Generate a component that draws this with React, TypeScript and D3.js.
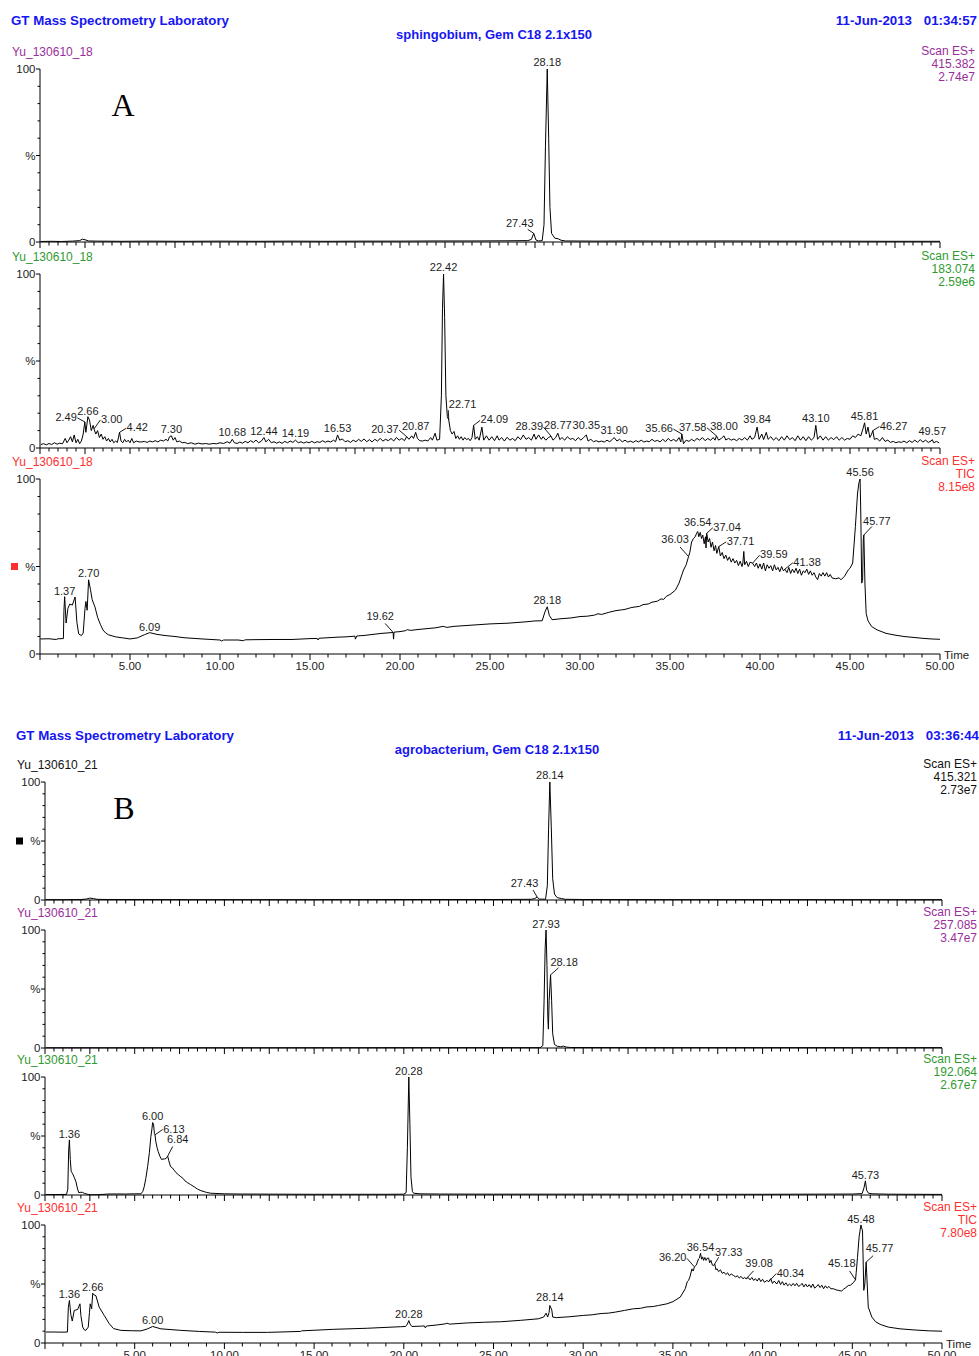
import React from 'react';
import * as d3 from 'd3';

const FONT = '"Liberation Sans", Arial, Helvetica, sans-serif';
const SERIF = '"Liberation Serif", "Times New Roman", serif';
const BLUE = '#1616f2';
const PURPLE = '#9a2e9a';
const GREEN = '#2f9a2f';
const RED = '#ff2f2f';
const INK = '#1c1c1c';

// ---- traces: flat lists of [retention time (min), relative intensity (%)] ----
// sphingobium, m/z 415.382
const a1Trace = [
  0.05, 0.3, 0.6, 0.4, 1.2, 0.3, 1.8, 0.5, 2.2, 0.8, 2.35, 1.6, 2.5, 1.3, 2.7, 0.6, 3.2, 0.5, 4.5, 0.4,
  6, 0.5, 8, 0.4, 10, 0.5, 12, 0.4, 14, 0.5, 16, 0.4, 18, 0.5, 20, 0.5, 22, 0.6, 24, 0.6, 26, 0.7,
  27.1, 0.8, 27.3, 1.5, 27.43, 5, 27.55, 1.2, 27.7, 0.6, 27.9, 0.8, 28.0, 10, 28.08, 55, 28.18, 100,
  28.26, 60, 28.33, 20, 28.42, 5, 28.6, 2.2, 28.8, 1.8, 28.95, 1.0, 29.2, 0.6, 31, 0.5, 33, 0.6, 35, 0.5,
  38, 0.6, 41, 0.5, 44, 0.5, 47, 0.4, 50, 0.4,
];

// sphingobium, m/z 183.074
const a2Trace = [
  0.05, 2, 0.2, 2.5, 0.35, 1.8, 0.5, 2.6, 0.65, 2, 0.8, 3, 0.95, 2.2, 1.1, 2.8, 1.25, 2.4, 1.4, 5.5,
  1.5, 3, 1.6, 4.5, 1.7, 6.5, 1.8, 3.5, 1.9, 7.5, 2.0, 3, 2.1, 5, 2.2, 2.5, 2.3, 4, 2.4, 8,
  2.49, 15, 2.55, 9, 2.66, 18, 2.75, 16, 2.85, 10, 2.95, 13, 3.0, 11, 3.1, 8, 3.2, 10, 3.3, 6,
  3.4, 8, 3.5, 5, 3.6, 6.5, 3.7, 4, 3.8, 5.5, 3.9, 3.5, 4.0, 5, 4.1, 3, 4.2, 4, 4.3, 3.2,
  4.42, 9, 4.5, 4, 4.6, 3, 4.7, 5, 4.8, 3.4, 4.9, 4.5, 5.0, 3, 5.1, 5.5, 5.2, 3, 5.35, 4,
  5.5, 3.5, 5.65, 3.5, 5.8, 3.8, 5.95, 3.2, 6.1, 4, 6.25, 3.5, 6.4, 4.2, 6.55, 3.5, 6.7, 4.5, 6.85, 4,
  7.0, 5, 7.1, 4, 7.2, 6.5, 7.3, 7, 7.4, 4.5, 7.5, 6, 7.6, 3.5, 7.75, 4, 7.9, 3, 8.05, 3.2,
  8.2, 2.5, 8.4, 3, 8.6, 2.2, 8.8, 2.8, 9.0, 2.3, 9.2, 2.6, 9.4, 2.2, 9.6, 2.6, 9.8, 2.4, 10.0, 3,
  10.2, 2.6, 10.4, 3.6, 10.55, 2.8, 10.68, 5, 10.8, 3, 10.95, 2.6, 11.1, 3.4, 11.25, 2.8, 11.4, 3.8, 11.55, 3,
  11.7, 4.2, 11.85, 3.2, 12.0, 4.5, 12.15, 3, 12.3, 4, 12.44, 6, 12.55, 3.5, 12.7, 5, 12.85, 3, 13.0, 3.6,
  13.15, 2.8, 13.3, 3.5, 13.45, 2.7, 13.6, 3.8, 13.75, 3, 13.9, 4, 14.05, 3.2, 14.19, 4.5, 14.35, 3, 14.5, 3.6,
  14.65, 2.8, 14.8, 3.5, 14.95, 3, 15.1, 3.8, 15.25, 3, 15.4, 3.6, 15.55, 3.2, 15.7, 4.2, 15.85, 3.3, 16.0, 4,
  16.15, 3.4, 16.3, 4.5, 16.42, 3.6, 16.53, 7.5, 16.65, 4.5, 16.8, 5.2, 16.95, 3.6, 17.1, 4.2, 17.25, 3.2, 17.4, 4.5,
  17.55, 3.6, 17.7, 5, 17.85, 3.8, 18.0, 5.2, 18.15, 3.6, 18.3, 4.8, 18.45, 3.5, 18.6, 5, 18.75, 4, 18.9, 5.5,
  19.05, 4, 19.2, 5, 19.35, 4.2, 19.5, 5.5, 19.65, 4, 19.8, 6, 19.95, 4.5, 20.1, 5.5, 20.25, 4.2, 20.37, 6.5,
  20.5, 5, 20.65, 7, 20.75, 5.5, 20.87, 9, 20.97, 5.5, 21.1, 4.2, 21.25, 4, 21.4, 4.5, 21.55, 4, 21.7, 6,
  21.8, 4.5, 21.95, 8.5, 22.05, 4.5, 22.2, 5, 22.3, 30, 22.36, 80, 22.42, 100, 22.48, 75, 22.55, 30, 22.63, 18,
  22.71, 16, 22.8, 10, 22.9, 8, 23.0, 9.5, 23.1, 5.5, 23.2, 7, 23.3, 5, 23.4, 6.5, 23.5, 4.5, 23.6, 6,
  23.7, 4.8, 23.8, 5.5, 23.9, 4.2, 24.0, 6, 24.09, 13, 24.18, 5, 24.3, 6.5, 24.4, 4.5, 24.55, 12, 24.65, 4.5,
  24.8, 7, 24.95, 4.5, 25.1, 6.5, 25.25, 4.2, 25.4, 7, 25.5, 4.5, 25.65, 6, 25.8, 4, 25.95, 6.2, 26.1, 4.5,
  26.25, 5.5, 26.4, 4.2, 26.55, 6.5, 26.7, 4.8, 26.85, 7.5, 27.0, 5, 27.15, 6, 27.3, 4.5, 27.45, 8, 27.55, 5,
  27.7, 7.5, 27.85, 5, 27.95, 6.5, 28.1, 4.5, 28.25, 6, 28.39, 6.8, 28.5, 4.5, 28.65, 6, 28.77, 8.5, 28.88, 4.8,
  29.0, 6, 29.15, 4.5, 29.3, 6.5, 29.45, 5, 29.6, 5.5, 29.75, 4.2, 29.9, 6, 30.05, 4.5, 30.2, 6, 30.35, 7.5,
  30.45, 4, 30.6, 5, 30.75, 3.6, 30.9, 4.2, 31.05, 3.5, 31.2, 4, 31.35, 3.4, 31.5, 4.5, 31.65, 3.6, 31.8, 5,
  31.9, 6, 32.05, 4, 32.2, 5, 32.35, 3.5, 32.5, 4.5, 32.65, 3.4, 32.8, 4, 32.95, 3.2, 33.1, 4.2, 33.25, 3.5,
  33.4, 4.5, 33.55, 3.4, 33.7, 4, 33.85, 3.6, 34.0, 5, 34.15, 3.8, 34.3, 4.4, 34.45, 3.5, 34.6, 5, 34.75, 3.6,
  34.9, 5.5, 35.05, 4, 35.2, 5, 35.35, 3.8, 35.5, 6, 35.6, 3.5, 35.66, 8, 35.75, 2.5, 35.9, 4.5, 36.05, 3.8,
  36.2, 5, 36.35, 4, 36.5, 5.5, 36.65, 4.5, 36.8, 6, 36.95, 4.2, 37.1, 5.5, 37.25, 4.4, 37.4, 6, 37.5, 4.5,
  37.58, 7, 37.7, 4.5, 37.85, 5.5, 38.0, 7, 38.1, 4.6, 38.25, 5.5, 38.4, 4.5, 38.55, 5.2, 38.7, 4.2, 38.85, 5.5,
  39.0, 4.5, 39.15, 6, 39.3, 4.5, 39.45, 7, 39.55, 5, 39.7, 6, 39.84, 12, 39.95, 5, 40.1, 8, 40.2, 4.8,
  40.35, 9, 40.45, 5, 40.6, 6.5, 40.75, 4.5, 40.9, 6, 41.05, 4.2, 41.2, 6.5, 41.35, 4.5, 41.5, 7, 41.65, 4.8,
  41.8, 6, 41.95, 4.2, 42.1, 7, 42.25, 4.5, 42.4, 6.5, 42.55, 4.2, 42.7, 6.5, 42.85, 4.5, 43.0, 6, 43.1, 13,
  43.2, 5, 43.35, 7, 43.5, 4.5, 43.65, 6.5, 43.8, 4.5, 43.95, 6, 44.1, 4.8, 44.25, 6.5, 44.4, 4.5, 44.55, 6,
  44.7, 4.5, 44.85, 5.5, 45.0, 5, 45.15, 7, 45.3, 6, 45.45, 8, 45.6, 7, 45.72, 11, 45.81, 14.5, 45.9, 8,
  46.0, 12, 46.1, 6, 46.2, 8, 46.27, 10, 46.35, 5, 46.5, 5.5, 46.65, 4, 46.8, 6, 46.95, 3.8, 47.1, 4.5,
  47.25, 3.2, 47.4, 3.8, 47.55, 3, 47.7, 3.6, 47.85, 3.2, 48.0, 4, 48.15, 3, 48.3, 4.2, 48.45, 3.2, 48.6, 4.5,
  48.75, 3.3, 48.9, 4.8, 49.05, 3.4, 49.2, 4.5, 49.35, 3.2, 49.5, 4, 49.57, 4.8, 49.65, 3, 49.8, 3.8, 49.95, 3,
];

// sphingobium, TIC
const a3Trace = [
  0.02, 8.6, 0.5, 8.7, 0.9, 8.3, 1.0, 8.7, 1.3, 8.8, 1.33, 25, 1.37, 32.8, 1.45, 17.7, 1.55, 26, 1.65, 28.5,
  1.8, 28, 1.95, 32.6, 2.05, 18, 2.15, 11.5, 2.3, 10.5, 2.4, 12, 2.5, 26, 2.55, 30, 2.62, 25, 2.7, 42.4,
  2.8, 37, 2.9, 31, 3.05, 27, 3.2, 21, 3.35, 17, 3.5, 13.7, 3.65, 12, 3.8, 11, 4.2, 9.8, 4.6, 9.2,
  5.0, 8.6, 5.4, 9.2, 5.8, 11, 6.09, 12.2, 6.5, 11.2, 7.0, 10.5, 7.5, 10, 8.0, 9.3, 9.0, 8.6, 10.0, 8.0,
  10.1, 7.4, 10.2, 8.0, 11, 8.0, 11.3, 7.6, 11.4, 8.1, 12, 8.2, 13, 8.3, 14, 8.3, 15, 8.8, 15.4, 8.9,
  15.45, 8.0, 15.5, 9, 16, 9.3, 16.5, 9.6, 17, 9.8, 17.5, 10.2, 17.52, 8.5, 17.6, 10.3, 18, 10.6, 19, 11.8,
  19.62, 12.3, 19.64, 8.5, 19.67, 12.5, 20, 12.8, 20.3, 13.3, 20.4, 13.9, 20.6, 13.5, 21, 14, 22, 15, 22.4, 15.8,
  22.6, 15.2, 23, 15.8, 24, 16.5, 25, 17.2, 26, 17.6, 27, 18.4, 27.5, 18.9, 27.9, 19, 28.05, 24, 28.18, 27,
  28.3, 22, 28.45, 19.6, 29, 20.2, 29.5, 20.6, 30, 21.4, 30.4, 21.6, 30.8, 22.2, 31, 23, 31.2, 22.6, 31.6, 23.8,
  32, 24.8, 32.3, 25.2, 32.5, 25.5, 32.8, 26.4, 33, 26.8, 33.3, 27.2, 33.5, 28.2, 33.8, 28.6, 34, 29.6, 34.3, 30.2,
  34.5, 31.5, 34.65, 31.2, 34.8, 33, 35, 34, 35.3, 36.5, 35.5, 40.5, 35.75, 48, 35.9, 51, 36.03, 55.7,
  36.1, 58, 36.2, 64, 36.3, 66, 36.4, 67, 36.48, 69, 36.54, 70, 36.6, 67, 36.68, 69.5, 36.75, 66, 36.82, 68,
  36.9, 63, 36.97, 67, 37.0, 60.6, 37.04, 69, 37.12, 64, 37.2, 66, 37.28, 61, 37.36, 64, 37.45, 59, 37.53, 62,
  37.6, 57.5, 37.71, 61.4, 37.8, 56, 37.9, 58, 38.0, 54.5, 38.1, 56.5, 38.2, 53.5, 38.3, 55.5, 38.4, 52.5, 38.5, 54.5,
  38.6, 52, 38.7, 53.5, 38.8, 50.5, 38.9, 53, 39.0, 50, 39.05, 52, 39.1, 58.6, 39.15, 51, 39.25, 53, 39.35, 50,
  39.45, 52.5, 39.59, 51.9, 39.7, 50, 39.8, 52, 39.9, 49, 40.0, 51.5, 40.1, 48.5, 40.2, 52, 40.3, 47.5, 40.4, 51,
  40.5, 49, 40.6, 50.5, 40.7, 47.5, 40.8, 51, 40.9, 48, 41.0, 49.5, 41.1, 47, 41.2, 50, 41.3, 47.5, 41.38, 48.5,
  41.5, 46.5, 41.6, 49.5, 41.7, 46, 41.8, 48.5, 41.9, 46.5, 42.0, 49, 42.1, 46, 42.2, 48.5, 42.3, 45, 42.4, 47.5,
  42.5, 46.5, 42.6, 48.5, 42.7, 45.5, 42.8, 47.5, 42.9, 45, 43.0, 46.5, 43.1, 44, 43.2, 42.5, 43.3, 46, 43.4, 44.5,
  43.5, 46.5, 43.6, 44.5, 43.7, 46.5, 43.8, 44, 43.9, 45.5, 44.0, 43.5, 44.2, 43, 44.4, 43.5, 44.5, 42.4, 44.7, 44.5,
  44.9, 48, 45.0, 49, 45.15, 52, 45.3, 72.9, 45.42, 92, 45.5, 98, 45.56, 100, 45.6, 80, 45.65, 40.5, 45.7, 42,
  45.74, 66, 45.77, 68, 45.83, 40, 45.9, 23, 46.0, 19, 46.2, 15.7, 46.5, 13.8, 47, 11.8, 47.5, 10.8, 48, 10,
  48.5, 9.5, 49, 9, 49.5, 8.6, 50, 8.4,
];

// agrobacterium, m/z 415.321
const b1Trace = [
  0.05, 0.3, 1, 0.3, 2, 0.4, 2.3, 0.8, 2.5, 1.6, 2.7, 1.2, 2.9, 0.6, 3.5, 0.4, 8, 0.3, 15, 0.3,
  20, 0.4, 25, 0.4, 27.1, 0.6, 27.3, 1.2, 27.43, 2.5, 27.55, 0.8, 27.9, 0.6, 28.0, 12, 28.07, 60, 28.14, 100,
  28.22, 62, 28.3, 18, 28.4, 5, 28.55, 2, 28.8, 1.2, 29.0, 0.6, 30, 0.4, 35, 0.3, 40, 0.3, 45, 0.3, 50, 0.3,
];

// agrobacterium, m/z 257.085
const b2Trace = [
  0.05, 0.2, 10, 0.2, 20, 0.3, 27.6, 0.3, 27.75, 2, 27.82, 40, 27.88, 85, 27.93, 100, 27.98, 70, 28.03, 25,
  28.06, 16, 28.1, 40, 28.18, 62, 28.24, 40, 28.3, 12, 28.4, 3, 28.55, 1.5, 28.75, 1.0, 28.9, 1.6, 29.05, 0.8,
  29.3, 0.4, 35, 0.3, 40, 0.3, 45, 0.3, 50, 0.3,
];

// agrobacterium, m/z 192.064
const b3Trace = [
  0.05, 0.4, 0.6, 0.4, 1.2, 0.5, 1.27, 5, 1.32, 38, 1.36, 46.7, 1.41, 30, 1.46, 20, 1.54, 18, 1.63, 15,
  1.73, 11, 1.8, 6, 1.88, 2, 2.0, 2.3, 2.1, 2.2, 2.19, 1.4, 2.4, 0.5, 2.56, 0.2, 3, 0.3, 3.5, 0.8,
  4, 0.9, 4.5, 0.8, 5, 1, 5.35, 1, 5.45, 3, 5.53, 7, 5.62, 14, 5.72, 24, 5.82, 36, 5.9, 49.5,
  5.96, 56, 6.0, 61.4, 6.05, 60, 6.1, 52, 6.13, 51, 6.18, 45, 6.25, 40, 6.31, 36.8, 6.4, 33, 6.5, 30,
  6.58, 30.5, 6.65, 30.5, 6.75, 31, 6.84, 33, 6.9, 29, 7.0, 24, 7.1, 23, 7.2, 21, 7.3, 19, 7.45, 17,
  7.57, 15.5, 7.7, 14, 7.8, 12, 7.94, 10.5, 8.1, 9, 8.31, 7, 8.5, 5, 8.69, 3.7, 9.0, 2.2, 9.24, 1.5,
  9.98, 1, 11, 0.8, 13, 0.7, 15, 0.6, 17, 0.6, 19, 0.6, 20.0, 0.7, 20.13, 2, 20.2, 40, 20.28, 100,
  20.34, 60, 20.4, 15, 20.48, 3, 20.55, 1.5, 20.9, 1.0, 22, 0.8, 25, 0.7, 30, 0.7, 35, 0.6, 40, 0.6,
  45, 0.8, 45.55, 1.2, 45.65, 6, 45.73, 12, 45.8, 4, 45.9, 1.5, 46.1, 1.0, 47, 0.7, 50, 0.5,
];

// agrobacterium, TIC
const b4Trace = [
  0.05, 9.3, 0.5, 9.3, 1.0, 9.2, 1.25, 9.3, 1.3, 30, 1.36, 36, 1.44, 24, 1.52, 18.6, 1.63, 27.6, 1.82, 28.4,
  1.95, 33.2, 2.0, 23.4, 2.1, 13.5, 2.2, 11, 2.28, 10.7, 2.41, 13.5, 2.48, 26, 2.52, 33.2, 2.6, 29, 2.66, 42.2,
  2.71, 41, 2.84, 40, 3.02, 30.4, 3.3, 23.4, 3.58, 16.4, 3.82, 12.2, 4.23, 10.7, 4.8, 10.4, 5.35, 10.3, 5.72, 12,
  6.0, 14, 6.46, 12, 7.57, 10.7, 8.6, 9.8, 9.5, 9.2, 9.6, 8.5, 9.7, 9.1, 11, 9, 12.4, 9, 14.25, 9.8,
  14.3, 10.3, 16.1, 11.6, 17.96, 12.5, 19.82, 13.8, 20.1, 14, 20.2, 16, 20.28, 19, 20.35, 16, 20.45, 14, 21.0, 14.3,
  21.15, 14.5, 21.2, 12.8, 21.27, 14.4, 21.8, 15.2, 22.3, 16.2, 22.4, 16.8, 22.55, 16, 23.53, 17, 24.5, 17.6, 25.4, 18,
  26.5, 19.2, 27.5, 20.5, 27.8, 22, 27.93, 25.3, 28.02, 22, 28.1, 26, 28.14, 31.8, 28.25, 28, 28.3, 22, 28.5, 21.5,
  29.2, 22.2, 30.03, 23.4, 30.5, 23.9, 31, 25, 31.4, 25.3, 31.8, 26.2, 32.3, 27.6, 32.8, 29, 33.2, 29.4, 33.5, 30.5,
  33.9, 30.9, 34.2, 31.8, 34.67, 33.2, 35.0, 35, 35.41, 38.9,
  35.69, 46, 35.8, 52, 35.87, 53, 35.95, 56, 36.06, 62.8, 36.13, 61, 36.2, 64.5, 36.3, 66, 36.43, 71.3, 36.48, 72,
  36.54, 76, 36.6, 71, 36.66, 73, 36.71, 70, 36.78, 72.5, 36.85, 70, 36.92, 72, 36.99, 72, 37.05, 68, 37.12, 70,
  37.2, 66, 37.27, 65.6, 37.33, 67, 37.4, 62, 37.45, 63, 37.55, 60.5, 37.65, 62, 37.75, 59, 37.85, 60, 37.95, 58,
  38.05, 59.5, 38.15, 57, 38.25, 58.5, 38.38, 57.2, 38.5, 56, 38.6, 57, 38.7, 55, 38.8, 56.5, 38.9, 54.5, 39.0, 55.5,
  39.08, 54.4, 39.2, 55.5, 39.3, 53.5, 39.4, 55.5, 39.5, 53, 39.6, 54.5, 39.7, 52.5, 39.8, 55, 39.9, 52, 40.0, 54,
  40.1, 51.5, 40.24, 53, 40.34, 52, 40.45, 54.5, 40.55, 50.5, 40.65, 52.5, 40.79, 50, 40.9, 53, 41.0, 49.5, 41.1, 52,
  41.2, 49, 41.3, 51, 41.4, 48.5, 41.5, 50, 41.6, 48.5, 41.7, 50.5, 41.8, 48.5, 41.9, 50.5, 42.0, 48, 42.09, 48.7,
  42.2, 50.5, 42.3, 47.5, 42.4, 50, 42.5, 47.5, 42.6, 49.5, 42.7, 47, 42.8, 50, 42.9, 46.5, 43.02, 48, 43.1, 49.5,
  43.2, 47, 43.3, 49, 43.4, 46, 43.5, 48.5, 43.6, 46.5, 43.7, 48, 43.8, 46, 43.95, 46, 44.1, 45, 44.25, 44.5,
  44.41, 44, 44.5, 45.5, 44.6, 46.5, 44.78, 48.7, 44.9, 49, 45.05, 51, 45.18, 53.5, 45.22, 60, 45.29, 72.6, 45.38, 90,
  45.48, 100, 45.57, 95, 45.64, 44.6, 45.7, 50, 45.77, 68.5, 45.8, 60, 45.89, 30.4, 46.09, 22, 46.3, 18, 46.55, 15.8,
  47, 13.5, 47.66, 12, 48.5, 11, 49.3, 10.3, 50, 10,
];

// ---- labelled peaks (retention times) ----
const a1Peaks = [27.43, 28.18];
const a2Peaks = [2.49, 2.66, 3.0, 4.42, 7.3, 10.68, 12.44, 14.19, 16.53, 20.37, 20.87, 22.42, 22.71, 24.09,
  28.39, 28.77, 30.35, 31.9, 35.66, 37.58, 38.0, 39.84, 43.1, 45.81, 46.27, 49.57];
const a3Peaks = [1.37, 2.7, 6.09, 19.62, 28.18, 36.03, 36.54, 37.04, 37.71, 39.59, 41.38, 45.56, 45.77];
const b1Peaks = [27.43, 28.14];
const b2Peaks = [27.93, 28.18];
const b3Peaks = [1.36, 6.0, 6.13, 6.84, 20.28, 45.73];
const b4Peaks = [1.36, 2.66, 6.0, 20.28, 28.14, 36.2, 36.54, 37.33, 39.08, 40.34, 45.18, 45.48, 45.77];

// ---- header / channel text ----
const labName = 'GT Mass Spectrometry Laboratory';
const runA = { title: 'sphingobium, Gem C18 2.1x150', date: '11-Jun-2013', time: '01:34:57' };
const runB = { title: 'agrobacterium, Gem C18 2.1x150', date: '11-Jun-2013', time: '03:36:44' };
const fileA = 'Yu_130610_18';
const fileB = 'Yu_130610_21';
const a1Info = ['Scan ES+', '415.382', '2.74e7'];
const a2Info = ['Scan ES+', '183.074', '2.59e6'];
const a3Info = ['Scan ES+', 'TIC', '8.15e8'];
const b1Info = ['Scan ES+', '415.321', '2.73e7'];
const b2Info = ['Scan ES+', '257.085', '3.47e7'];
const b3Info = ['Scan ES+', '192.064', '2.67e7'];
const b4Info = ['Scan ES+', 'TIC', '7.80e8'];

// ---- label placement (px offsets from the peak apex) ----
type Lbl = { dx?: number; dy?: number; a?: 'middle' | 'start' | 'end'; lead?: [number, number] };
const placeA1: Record<string, Lbl> = {
  '27.43': { dx: -14, dy: -6.5, lead: [-6, -4] },
  '28.18': { dy: -3 },
};
const placeA2: Record<string, Lbl> = {
  '2.49': { dx: -8, dy: -1, a: 'end' },
  '2.66': { dy: -2 },
  '3.00': { dx: 7, dy: -6, a: 'start' },
  '4.42': { dx: 7, dy: -1, a: 'start' },
  '7.30': { dy: -2.5 },
  '10.68': { dy: -3 },
  '12.44': { dy: -2.5 },
  '14.19': { dy: -3.5 },
  '16.53': { dy: -3 },
  '20.37': { dx: -8, dy: -3.5, a: 'end' },
  '20.87': { dy: -2.5 },
  '22.42': { dy: -3 },
  '22.71': { dx: 0, dy: -12, a: 'start', lead: [-0.5, -10] },
  '24.09': { dx: 7, dy: -2, a: 'start' },
  '28.39': { dx: -8, dy: -6, a: 'end' },
  '28.77': { dy: -4 },
  '30.35': { dy: -5.5 },
  '31.90': { dy: -4 },
  '35.66': { dx: -9, dy: -2, a: 'end' },
  '37.58': { dx: -10, dy: -5, a: 'end' },
  '38.00': { dy: -5.5 },
  '39.84': { dy: -4 },
  '43.10': { dy: -3 },
  '45.81': { dy: -3 },
  '46.27': { dx: 7, dy: -1, a: 'start' },
  '49.57': { dy: -4.5 },
};
const placeA3: Record<string, Lbl> = {
  '1.37': { dy: -2 },
  '2.70': { dy: -3 },
  '6.09': { dy: -2 },
  '19.62': { dx: -13, dy: -12, lead: [-8, -9] },
  '28.18': { dy: -3 },
  '36.03': { dx: -13.5, dy: -13.4, lead: [-8.5, -9.5] },
  '36.54': { dy: -5.5 },
  '37.04': { dx: 6.6, dy: -2.5, a: 'start' },
  '37.71': { dx: 8, dy: -1.7, a: 'start' },
  '39.59': { dx: 7.5, dy: -5, a: 'start' },
  '41.38': { dx: 8.5, dy: -3.3, a: 'start' },
  '45.56': { dy: -2.6 },
  '45.77': { dx: 13, dy: -10, lead: [8, -8.5] },
};
const placeB1: Record<string, Lbl> = {
  '27.43': { dx: -12.6, dy: -10, lead: [-4, -7] },
  '28.14': { dy: -3 },
};
const placeB2: Record<string, Lbl> = {
  '27.93': { dy: -2.5 },
  '28.18': { dx: 13.6, dy: -9, lead: [8, -7] },
};
const placeB3: Record<string, Lbl> = {
  '1.36': { dy: -2.3 },
  '6.00': { dy: -2.7 },
  '6.13': { dx: 8.2, dy: -2.3, a: 'start' },
  '6.84': { dx: 10, dy: -13, lead: [5, -9.5] },
  '20.28': { dy: -2.3 },
  '45.73': { dy: -2 },
};
const placeB4: Record<string, Lbl> = {
  '1.36': { dy: -2.3 },
  '2.66': { dy: -2.7 },
  '6.00': { dy: -2.7 },
  '20.28': { dy: -2.9 },
  '28.14': { dy: -4 },
  '36.20': { dx: -8, dy: -5.5, a: 'end' },
  '36.54': { dy: -2.7 },
  '37.33': { dx: 14, dy: -8.4, lead: [4, -6.7] },
  '39.08': { dx: 13, dy: -11.6, lead: [7.5, -8] },
  '40.34': { dx: 8, dy: -5, a: 'start' },
  '45.18': { dx: -13.7, dy: -12.7, lead: [-6, -9] },
  '45.48': { dy: -1.6 },
  '45.77': { dx: 13.5, dy: -10, lead: [7, -6.5] },
};

type Pt = [number, number];
const pairs = (flat: number[]): Pt[] => {
  const out: Pt[] = [];
  for (let i = 0; i < flat.length; i += 2) out.push([flat[i], flat[i + 1]]);
  return out;
};

interface PanelProps {
  x0: number; x1: number; top: number; bottom: number;
  trace: number[]; peaks: number[]; place: Record<string, Lbl>;
  file: string; fileX: number; info: string[]; infoX: number; color: string;
  timeAxis?: boolean; marker?: string;
}

const Panel = ({ x0, x1, top, bottom, trace, peaks, place, file, fileX, info, infoX, color, timeAxis, marker }: PanelProps) => {
  const x = d3.scaleLinear().domain([0, 50]).range([x0, x1]);
  const y = d3.scaleLinear().domain([0, 100]).range([bottom, top]);
  const pts = pairs(trace);
  const path = d3.line<Pt>().x((d) => x(d[0])).y((d) => y(d[1]))(pts) || '';
  const minor = timeAxis ? 1 : 0.5;
  const major = timeAxis ? 5 : 2.5;
  const xTicks = d3.range(0, 50 + 1e-6, minor);
  const yTicks = d3.range(0, 101, 10);
  const fmt = d3.format('.2f');
  const ax = x(0);

  return (
    <g fontFamily={FONT}>
      <text x={fileX} y={top - 13.5} fontSize={12} fill={color}>{file}</text>
      {info.map((s, i) => (
        <text key={s + i} x={infoX} y={top - 14 + i * 13} fontSize={12} fill={color} textAnchor="end">{s}</text>
      ))}

      {/* y axis */}
      <line x1={ax} x2={ax} y1={y(0)} y2={y(100)} stroke="#000" strokeWidth={1} />
      {yTicks.map((v) => (
        <line key={v} x1={ax - (v % 50 === 0 ? 4 : 2.5)} x2={ax} y1={y(v)} y2={y(v)} stroke="#000" strokeWidth={1} />
      ))}
      <text x={ax - 4.5} y={y(100) + 4} fontSize={11.5} fill={INK} textAnchor="end">100</text>
      <text x={ax - 4.5} y={y(50) + 4} fontSize={11.5} fill={INK} textAnchor="end">%</text>
      <text x={ax - 4.5} y={y(0) + 4} fontSize={11.5} fill={INK} textAnchor="end">0</text>
      {marker && <rect x={ax - 29} y={y(50) - 3.5} width={7} height={7} fill={marker} />}

      {/* time axis */}
      <line x1={ax} x2={x(50)} y1={y(0)} y2={y(0)} stroke="#000" strokeWidth={1} />
      {xTicks.map((t) => {
        const isMajor = Math.abs(t / major - Math.round(t / major)) < 1e-6;
        return (
          <line key={t} x1={x(t)} x2={x(t)} y1={y(0)} y2={y(0) + (isMajor ? 6 : 3.5)} stroke="#000" strokeWidth={1} />
        );
      })}
      {timeAxis &&
        d3.range(5, 50.001, 5).map((t) => (
          <text key={t} x={x(t)} y={y(0) + 16} fontSize={11.5} fill={INK} textAnchor="middle">{fmt(t)}</text>
        ))}
      {timeAxis && <text x={x(50) + 4} y={y(0) + 5} fontSize={11.5} fill={INK}>Time</text>}

      {/* trace */}
      <path d={path} fill="none" stroke="#000" strokeWidth={1} strokeLinejoin="round" />

      {/* peak labels */}
      {peaks.map((rt) => {
        const label = fmt(rt);
        const apex = d3.least(pts, (p) => Math.abs(p[0] - rt)) as Pt;
        const px = x(apex[0]);
        const py = y(apex[1]);
        const o = place[label] || {};
        const dx = o.dx ?? 0;
        const dy = o.dy ?? -3;
        const anchor = o.a ?? 'middle';
        let lead: Pt | null = o.lead ?? null;
        if (!lead && anchor !== 'middle') lead = [dx + (anchor === 'start' ? -0.5 : 0.5), dy - 3];
        return (
          <g key={label}>
            {lead && (
              <line x1={px} y1={py} x2={px + lead[0]} y2={py + lead[1]} stroke="#000" strokeWidth={0.9} />
            )}
            <text x={px + dx} y={py + dy} fontSize={11} fill={INK} textAnchor={anchor}>{label}</text>
          </g>
        );
      })}
    </g>
  );
};

const Header = ({ top, left, right, mid, run }: { top: number; left: number; right: number; mid: number; run: { title: string; date: string; time: string } }) => (
  <g fontFamily={FONT} fontWeight="bold" fill={BLUE}>
    <text x={left} y={top} fontSize={13.3}>{labName}</text>
    <text x={mid} y={top + 14} fontSize={13} textAnchor="middle">{run.title}</text>
    <text x={right - 65} y={top} fontSize={13.3} textAnchor="end">{run.date}</text>
    <text x={right} y={top} fontSize={13.3} textAnchor="end">{run.time}</text>
  </g>
);

export default function App() {
  const A = { x0: 40, x1: 940, fileX: 12, infoX: 975 };
  const B = { x0: 45, x1: 942, fileX: 17, infoX: 977 };
  return (
    <svg width={979} height={1356} style={{ position: 'absolute', left: 0, top: 0, background: '#fff' }}>
      <rect x={0} y={0} width={979} height={1356} fill="#fff" />
      <Header top={25} left={11} right={977} mid={494} run={runA} />
      <text x={123} y={116} fontFamily={SERIF} fontSize={32} textAnchor="middle" fill="#000">A</text>
      <Panel {...A} top={69} bottom={242} trace={a1Trace} peaks={a1Peaks} place={placeA1} file={fileA} info={a1Info} color={PURPLE} />
      <Panel {...A} top={274} bottom={448} trace={a2Trace} peaks={a2Peaks} place={placeA2} file={fileA} info={a2Info} color={GREEN} />
      <Panel {...A} top={479} bottom={654} trace={a3Trace} peaks={a3Peaks} place={placeA3} file={fileA} info={a3Info} color={RED} timeAxis marker={RED} />

      <Header top={740} left={16} right={979} mid={497} run={runB} />
      <text x={124} y={819} fontFamily={SERIF} fontSize={32} textAnchor="middle" fill="#000">B</text>
      <Panel {...B} top={782} bottom={900} trace={b1Trace} peaks={b1Peaks} place={placeB1} file={fileB} info={b1Info} color="#111" marker="#000" />
      <Panel {...B} top={930} bottom={1048} trace={b2Trace} peaks={b2Peaks} place={placeB2} file={fileB} info={b2Info} color={PURPLE} />
      <Panel {...B} top={1077} bottom={1195} trace={b3Trace} peaks={b3Peaks} place={placeB3} file={fileB} info={b3Info} color={GREEN} />
      <Panel {...B} top={1225} bottom={1343} trace={b4Trace} peaks={b4Peaks} place={placeB4} file={fileB} info={b4Info} color={RED} timeAxis />
    </svg>
  );
}
